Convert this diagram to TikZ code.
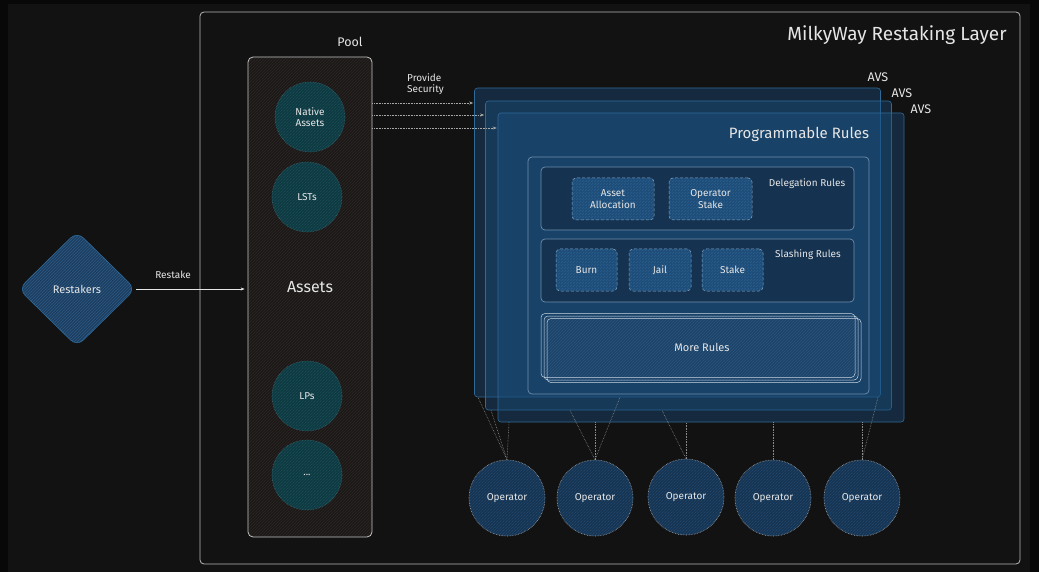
\documentclass[tikz,border=0pt]{standalone}
\usepackage{fontspec}
\setmainfont{Fira Sans}
\usetikzlibrary{shapes.geometric,patterns,arrows.meta}
\definecolor{bgout}{HTML}{080808}
\definecolor{bgin}{HTML}{121212}
\definecolor{fg}{HTML}{E6E6E6}
\definecolor{framec}{HTML}{B8B8B8}
\definecolor{poolfill}{HTML}{1B1817}
\definecolor{poolhatch}{HTML}{2A2725}
\definecolor{tealfill}{HTML}{0F3A42}
\definecolor{tealhatch}{HTML}{1D5560}
\definecolor{tealedge}{HTML}{3E6870}
\definecolor{bluefill}{HTML}{1C3E60}
\definecolor{bluehatch}{HTML}{2E5A85}
\definecolor{avsfill}{HTML}{1A5080}
\definecolor{avsedge}{HTML}{2F6A99}
\definecolor{rulesedge}{HTML}{6E8FAE}
\definecolor{groupfill}{HTML}{15304B}
\definecolor{itemfill}{HTML}{1D4D78}
\definecolor{itemhatch}{HTML}{2A5F8E}
\definecolor{morefill}{HTML}{1E4468}
\definecolor{morehatch}{HTML}{2A5680}
\definecolor{opfill}{HTML}{173553}
\definecolor{ophatch}{HTML}{24507A}
\definecolor{dotc}{HTML}{A8A8A8}
\begin{document}
\begin{tikzpicture}[x=1pt,y=-1pt,
  txt/.style={text=fg, font=\fontsize{10}{11.5}\selectfont, align=center, inner sep=1pt},
  lbl/.style={text=fg, font=\fontsize{12.5}{14}\selectfont, inner sep=1pt},
  big/.style={text=fg, font=\fontsize{15}{17}\selectfont, inner sep=1pt},
  hatch/.style 2 args={preaction={fill=#1}, preaction={pattern=north east lines, pattern color=#2}},
  layerbox/.style={draw=framec, line width=0.8pt, rounded corners=4pt, minimum width=820pt, minimum height=552pt},
  poolbox/.style={draw=framec!80, line width=0.8pt, rounded corners=5pt, hatch={poolfill}{poolhatch}, minimum width=124pt, minimum height=480pt},
  asset/.style={circle, minimum size=70pt, inner sep=0pt, hatch={tealfill}{tealhatch}, draw=tealedge, densely dotted, line width=0.6pt, txt},
  diam/.style={diamond, minimum width=117pt, minimum height=115pt, inner sep=0pt, rounded corners=9pt, hatch={bluefill}{bluehatch}, draw=avsedge, line width=0.6pt, text=fg, font=\fontsize{11}{13}\selectfont},
  avs/.style={draw=avsedge, line width=0.6pt, rounded corners=3pt, fill=avsfill, fill opacity=0.4, minimum width=406pt, minimum height=309pt},
  rulesbox/.style={draw=rulesedge, line width=0.7pt, rounded corners=4pt, minimum width=341pt, minimum height=237pt},
  group/.style={draw=rulesedge, line width=0.7pt, rounded corners=4pt, fill=groupfill, fill opacity=0.8, minimum width=313pt, minimum height=63pt},
  item/.style={draw=rulesedge!80!white, densely dashed, line width=0.5pt, rounded corners=4pt, hatch={itemfill}{itemhatch}, minimum height=42pt, txt},
  stackbox/.style={draw=white!65!rulesedge, line width=0.5pt, rounded corners=4pt, minimum width=314pt, minimum height=64pt},
  op/.style={circle, minimum size=76pt, inner sep=0pt, hatch={opfill}{ophatch}, draw=dotc, densely dotted, line width=0.6pt, txt},
  arr/.style={draw=fg, line width=0.6pt, -{Stealth[length=4pt,width=3pt]}},
  dotarr/.style={draw=dotc, densely dotted, line width=0.6pt, -{Stealth[length=4pt,width=3pt]}},
  link/.style={draw=dotc, densely dotted, line width=0.6pt, opacity=0.8}
]
\useasboundingbox (0,0) rectangle (1039,572);
\fill[bgout] (0,0) rectangle (1039,572);
\fill[bgin] (8,4) rectangle (1030,572);

% outer layer
\node[layerbox] (layer) at (610,288) {};
\node[text=fg, font=\fontsize{19}{21}\selectfont, inner sep=1pt] (title) at (897,35) {MilkyWay Restaking Layer};

% pool
\node[lbl] (poollbl) at (350,42) {Pool};
\node[poolbox] (pool) at (310,297) {};
\node[asset] (native) at (310,117) {Native\\Assets};
\node[asset] (lst) at (307,197) {LSTs};
\node[big, font=\fontsize{16}{18}\selectfont] (assetslbl) at (310,287) {Assets};
\node[asset] (lp) at (307,396) {LPs};
\node[asset] (etc) at (307,475) {...};

% restakers
\node[diam] (restakers) at (77,289) {Restakers};
\draw[arr, shorten >=3pt] (restakers.east) -- (pool.west |- restakers.east);
\node[txt] (restakelbl) at (173,275) {Restake};

% AVS stack
\node[avs] (avs1) at (677.5,242.5) {};
\node[avs] (avs2) at (688.5,255.5) {};
\node[avs] (avs3) at (701,267.5) {};
\node[lbl] (avsl1) at (878,77) {AVS};
\node[lbl] (avsl2) at (902,93) {AVS};
\node[lbl] (avsl3) at (921,109) {AVS};

% provide security
\node[txt, align=left, anchor=west] (pslbl) at (406,84) {Provide\\Security};
\draw[dotarr, shorten >=1pt] (pool.east |- 0,103) -- (avs1.west |- 0,103);
\draw[dotarr, shorten >=1pt] (pool.east |- 0,115) -- (avs2.west |- 0,115);
\draw[dotarr, shorten >=1pt] (pool.east |- 0,128) -- (avs3.west |- 0,128);

% programmable rules
\node[big] (prog) at (799,134) {Programmable Rules};
\node[rulesbox] (rules) at (698.5,275.5) {};
\node[group] (deleg) at (697.5,198.5) {};
\node[txt] (deleglbl) at (807,184) {Delegation Rules};
\node[item, minimum width=82pt] (alloc) at (613,199) {Asset\\Allocation};
\node[item, minimum width=83pt] (opstake) at (710.5,199) {Operator\\Stake};
\node[group] (slash) at (697.5,270.5) {};
\node[txt] (slashlbl) at (808,255) {Slashing Rules};
\node[item, minimum width=61pt] (burn) at (586.5,270) {Burn};
\node[item, minimum width=62pt] (jail) at (660,270) {Jail};
\node[item, minimum width=61pt] (stake) at (732.5,270) {Stake};

% more rules (stacked)
\node[stackbox, hatch={morefill}{morehatch}] (more1) at (701,348) {};
\node[stackbox] (more2) at (698,345.5) {};
\node[stackbox] (more3) at (704,350.5) {};
\node[text=fg, font=\fontsize{11}{13}\selectfont] (morelbl) at (702,347) {More Rules};

% operators
\node[op] (op1) at (507,498) {Operator};
\node[op] (op2) at (595,498) {Operator};
\node[op] (op3) at (686,497) {Operator};
\node[op] (op4) at (773,498) {Operator};
\node[op] (op5) at (862,498) {Operator};

\draw[link] (op1.north) -- (478,0 |- avs1.south);
\draw[link] (op1.north) -- (491,0 |- avs2.south);
\draw[link] (op1.north) -- (509,0 |- avs3.south);
\draw[link] (op2.north) -- (570,0 |- avs2.south);
\draw[link] (op2.north) -- (op2.north |- avs3.south);
\draw[link] (op2.north) -- (620,0 |- avs1.south);
\draw[link] (op3.north) -- (662,0 |- avs2.south);
\draw[link] (op3.north) -- (op3.north |- avs3.south);
\draw[link] (op4.north) -- (op4.north |- avs3.south);
\draw[link] (op5.north) -- (op5.north |- avs3.south);
\draw[link] (op5.north) -- (878,0 |- avs1.south);
\end{tikzpicture}
\end{document}
